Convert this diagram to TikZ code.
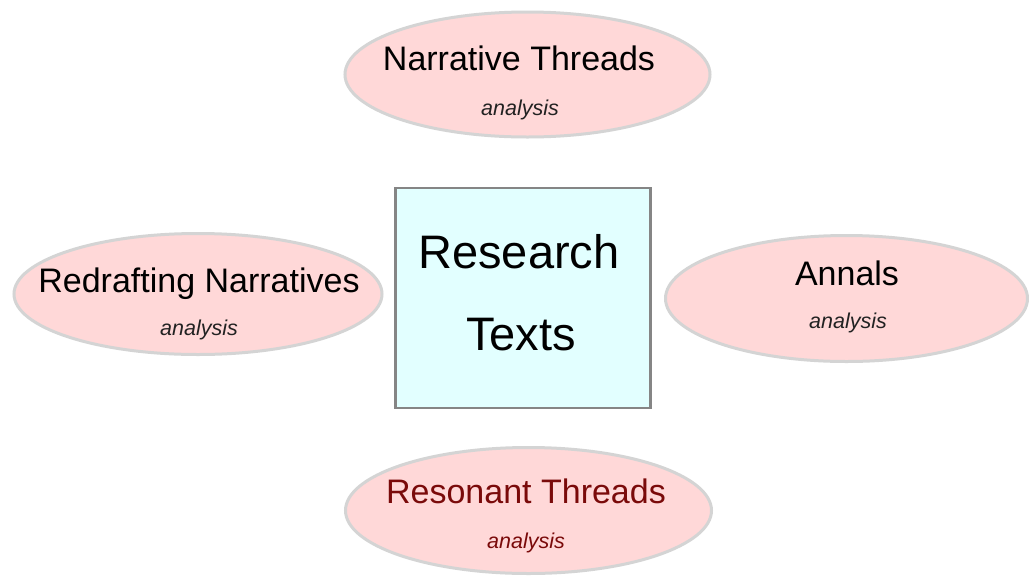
\documentclass[tikz,border=0pt]{standalone}
\usepackage{fontspec}
\setmainfont{Liberation Sans}
\usetikzlibrary{shapes.geometric}
\definecolor{bubblefill}{HTML}{FFD8D8}
\definecolor{bubbleline}{HTML}{D4D4D4}
\definecolor{corefill}{HTML}{E2FFFF}
\definecolor{coreline}{HTML}{858585}
\definecolor{darkred}{HTML}{7A0A0A}
\definecolor{subgray}{HTML}{222222}
\tikzset{
  bubble/.style={ellipse, fill=bubblefill, draw=bubbleline, line width=3pt, inner sep=0pt},
  core/.style={rectangle, fill=corefill, draw=coreline, line width=2.5pt, inner sep=0pt},
  title/.style={anchor=base, inner sep=0pt, font=\fontsize{34}{37}\selectfont},
  sub/.style={anchor=base, inner sep=0pt, text=subgray, font=\fontsize{21.5}{24}\selectfont\itshape},
  big/.style={anchor=base, inner sep=0pt, font=\fontsize{47}{50}\selectfont}
}
\begin{document}
\begin{tikzpicture}[x=1pt, y=-1pt]
  \useasboundingbox (0,0) rectangle (1029,582);
  \fill[white] (0,0) rectangle (1029,582);

  % central box
  \node[core, minimum width=255pt, minimum height=220pt] (center) at (523,298) {};
  \node[big] (research) at (519,268) {Research};
  \node[big] (texts) at (521,350) {Texts};

  % top
  \node[bubble, minimum width=365pt, minimum height=125pt] (top) at (527.5,74.5) {};
  \node[title] (topT) at (519,70) {Narrative Threads};
  \node[sub] (topS) at (520,115) {analysis};

  % left
  \node[bubble, minimum width=368pt, minimum height=121pt] (left) at (198,294) {};
  \node[title] (leftT) at (199,292) {Redrafting Narratives};
  \node[sub] (leftS) at (199,335) {analysis};

  % right
  \node[bubble, minimum width=362pt, minimum height=126pt] (right) at (846.5,298.5) {};
  \node[title] (rightT) at (847,285) {Annals};
  \node[sub] (rightS) at (848,328) {analysis};

  % bottom
  \node[bubble, minimum width=366pt, minimum height=126pt] (bottom) at (528.5,510.5) {};
  \node[title, text=darkred] (bottomT) at (526,503) {Resonant Threads};
  \node[sub, text=darkred] (bottomS) at (526,548) {analysis};
\end{tikzpicture}
\end{document}
